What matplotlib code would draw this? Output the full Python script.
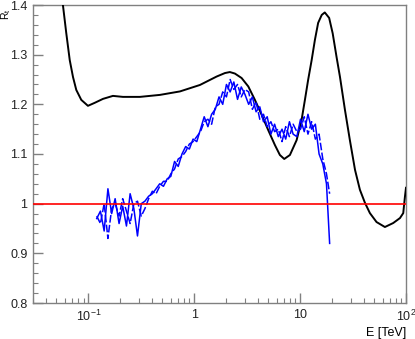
import numpy as np
import matplotlib
matplotlib.use("Agg")
import matplotlib.pyplot as plt
from matplotlib.ticker import FixedLocator, NullFormatter

plt.rcParams['font.family'] = ['Liberation Sans', 'DejaVu Sans']
plt.rcParams['mathtext.fontset'] = 'custom'
plt.rcParams['mathtext.rm'] = 'Liberation Sans'
plt.rcParams['mathtext.it'] = 'Liberation Sans:italic'

# black model curve: energy [TeV] and ratio
model_e = [0.055, 0.0575, 0.0618, 0.0667, 0.0716, 0.0769, 0.0857, 0.0991, 0.1147,
           0.1375, 0.1706, 0.212, 0.307, 0.474, 0.733, 1.132, 1.629, 1.95, 2.17,
           2.42, 2.80, 3.24, 3.74, 4.33, 5.00, 5.78, 6.44, 7.08, 8.01, 9.27,
           10.33, 11.1, 11.9, 12.85, 13.8, 14.8, 16.0, 17.1, 18.8, 20.3, 22.1,
           23.8, 26.5, 29.5, 33.0, 36.7, 40.9, 45.6, 52.7, 63.2, 75.7, 87.7,
           94.2, 97.7, 100.0]
model_r = [1.42, 1.40, 1.344, 1.289, 1.255, 1.229, 1.209, 1.197, 1.203,
           1.211, 1.217, 1.215, 1.215, 1.219, 1.226, 1.239, 1.256, 1.263, 1.265,
           1.262, 1.253, 1.236, 1.209, 1.179, 1.148, 1.118, 1.098, 1.090, 1.098, 1.128,
           1.169, 1.209, 1.249, 1.289, 1.330, 1.364, 1.380, 1.385, 1.374, 1.343, 1.295,
           1.255, 1.189, 1.128, 1.068, 1.028, 1.002, 0.981, 0.963, 0.953, 0.961, 0.971,
           0.981, 1.014, 1.032]

# blue measured ratios (two samples) on a common energy grid
data_e = [0.120, 0.130, 0.141, 0.153, 0.166, 0.179, 0.195, 0.211, 0.229, 0.248,
          0.269, 0.291, 0.316, 0.342, 0.371, 0.402, 0.436, 0.472, 0.512, 0.555,
          0.601, 0.652, 0.706, 0.766, 0.830, 0.899, 0.975, 1.057, 1.146, 1.242,
          1.346, 1.459, 1.581, 1.714, 1.858, 2.014, 2.183, 2.366, 2.564, 2.780,
          3.013, 3.266, 3.540, 3.837, 4.159, 4.508, 4.887, 5.297, 5.741, 6.223,
          6.745, 7.311, 7.925, 8.590, 9.311, 10.09, 10.94, 11.86, 12.85, 13.93,
          15.10, 16.37, 17.74, 19.0]
data_a = [0.970, 0.985, 0.945, 1.030, 0.980, 1.010, 0.960, 0.995, 0.955, 1.020,
          0.990, 0.935, 1.000, 1.005, 1.015, 1.020, 1.030, 1.040, 1.035, 1.050,
          1.055, 1.085, 1.075, 1.100, 1.115, 1.110, 1.130, 1.125, 1.150, 1.175,
          1.155, 1.180, 1.190, 1.215, 1.200, 1.240, 1.225, 1.245, 1.210, 1.235,
          1.220, 1.200, 1.215, 1.185, 1.195, 1.165, 1.175, 1.140, 1.160, 1.135,
          1.150, 1.130, 1.165, 1.140, 1.135, 1.170, 1.145, 1.180, 1.150, 1.160,
          1.100, 1.080, 1.040, 0.920]
data_b = [0.975, 0.960, 1.000, 0.930, 0.990, 1.000, 0.975, 1.010, 0.985, 0.960,
          1.000, 1.005, 0.975, 0.990, 1.010, 1.025, 1.020, 1.035, 1.045, 1.045,
          1.060, 1.070, 1.090, 1.095, 1.105, 1.120, 1.125, 1.135, 1.145, 1.165,
          1.170, 1.160, 1.195, 1.200, 1.225, 1.215, 1.250, 1.230, 1.240, 1.215,
          1.230, 1.225, 1.190, 1.205, 1.170, 1.180, 1.155, 1.165, 1.145, 1.150,
          1.125, 1.155, 1.135, 1.160, 1.145, 1.150, 1.175, 1.140, 1.165, 1.130,
          1.140, 1.090, 1.060, 1.020]

fig = plt.figure(figsize=(4.15, 3.39), dpi=100)
ax = fig.add_axes([33 / 415, 1 - 303 / 339, 373 / 415, 298 / 339])

ax.plot(model_e, model_r, color='black', lw=1.4, zorder=3)
ax.plot(data_e, data_a, color='blue', lw=1.1, zorder=4)
ax.plot(data_e, data_b, color='blue', lw=1.1, dashes=(5, 1.5), zorder=4)
ax.axhline(1.0, color='red', lw=1.2, zorder=5)

ax.set_xscale('log')
ax.set_xlim(0.03, 100)
ax.set_ylim(0.8, 1.4)

ax.set_xticks([0.1, 1, 10, 100])
ax.set_xticklabels([r'$\mathregular{10^{-1}}$', '1', '10', r'$\mathregular{10^{2}}$'])
minors = [m * 10.0 ** p for p in range(-2, 2) for m in range(2, 10)]
ax.xaxis.set_minor_locator(FixedLocator([v for v in minors if 0.03 <= v <= 100]))
ax.xaxis.set_minor_formatter(NullFormatter())

ax.set_yticks([0.8, 0.9, 1.0, 1.1, 1.2, 1.3, 1.4])
ax.set_yticklabels(['0.8', '0.9', '1', '1.1', '1.2', '1.3', '1.4'])
ax.yaxis.set_minor_locator(FixedLocator(np.arange(0.8, 1.401, 0.02)))

grey = '#808080'
for s in ax.spines.values():
    s.set_color(grey)
    s.set_linewidth(1.0)
ax.tick_params(which='both', direction='in', top=False, right=False, color=grey,
               labelsize=9, labelcolor='#222222')
ax.tick_params(which='major', length=7.5, width=1.0, pad=4)
ax.tick_params(which='minor', length=3.8, width=0.8)

ax.set_xlabel('E [TeV]', loc='right', fontsize=9, labelpad=2)
ax.set_ylabel(r'R$_\mathregular{t}$', loc='top', fontsize=7.5)
ax.yaxis.set_label_coords(-0.053, 0.99)

fig.savefig('out.png', dpi=100)
